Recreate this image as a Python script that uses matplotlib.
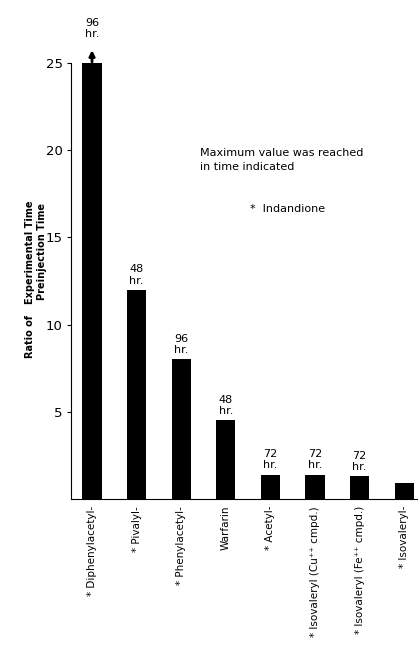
import numpy as np
import matplotlib
matplotlib.use('Agg')
import matplotlib.pyplot as plt

plt.rcParams['font.family'] = ['DejaVu Sans']

# 数据
compounds = ['* Diphenylacetyl-', '* Pivalyl-', '* Phenylacetyl-', 'Warfarin',
             '* Acetyl-', '* Isovaleryl (Cu\u207a\u207a cmpd.)',
             '* Isovaleryl (Fe\u207a\u207a cmpd.)', '* Isovaleryl-']
ratios = [25, 12, 8, 4.5, 1.4, 1.4, 1.3, 0.9]
hours = ['96', '48', '96', '48', '72', '72', '72', '']

fig = plt.figure(figsize=(4.18, 6.48), dpi=100)
ax = fig.add_axes([0.170, 0.230, 0.830, 0.6728])

x = np.arange(len(compounds))
ax.bar(x, ratios, width=0.43, color='black')

ax.set_xlim(-0.47, 7.31)
ax.set_ylim(0, 25)
ax.set_yticks([5, 10, 15, 20, 25])
ax.tick_params(axis='y', direction='out', length=3, width=0.8, labelsize=9.5, pad=3)
ax.set_xticks(x)
ax.set_xticklabels(compounds, rotation=90, fontsize=7.5, va='top')
ax.tick_params(axis='x', length=0, pad=5)
for s in ['top', 'right']:
    ax.spines[s].set_visible(False)
ax.spines['left'].set_linewidth(0.8)
ax.spines['bottom'].set_linewidth(0.8)

# 时间标注
for xi, r, h in zip(x, ratios, hours):
    if not h:
        continue
    if r >= 25:
        ax.annotate('', xy=(xi, 25.9), xytext=(xi, 24.9),
                    arrowprops=dict(arrowstyle='-|>', color='black', lw=2, mutation_scale=8),
                    annotation_clip=False)
        ax.annotate(h + '\nhr.', xy=(xi, 25), xytext=(0, 17), textcoords='offset points',
                    ha='center', va='bottom', fontsize=8, linespacing=1.2,
                    annotation_clip=False)
    else:
        ax.annotate(h + '\nhr.', xy=(xi, r), xytext=(0, 3), textcoords='offset points',
                    ha='center', va='bottom', fontsize=8, linespacing=1.2)

# 说明文字
fig.text(200 / 418, 1 - 160 / 648, 'Maximum value was reached\nin time indicated',
         fontsize=8, ha='left', va='center', linespacing=1.5)
fig.text(250 / 418, 1 - 209 / 648, '*  Indandione', fontsize=8, ha='left', va='center')

# 纵轴标题
fig.text(30 / 418, 1 - 336 / 648, 'Ratio of', rotation=90, fontsize=7,
         fontweight='bold', ha='center', va='center')
fig.text(30 / 418, 1 - 252 / 648, 'Experimental Time', rotation=90, fontsize=7,
         fontweight='bold', ha='center', va='center')
fig.text(42 / 418, 1 - 252 / 648, 'Preinjection Time', rotation=90, fontsize=7,
         fontweight='bold', ha='center', va='center')

fig.savefig('out.png', dpi=100)
